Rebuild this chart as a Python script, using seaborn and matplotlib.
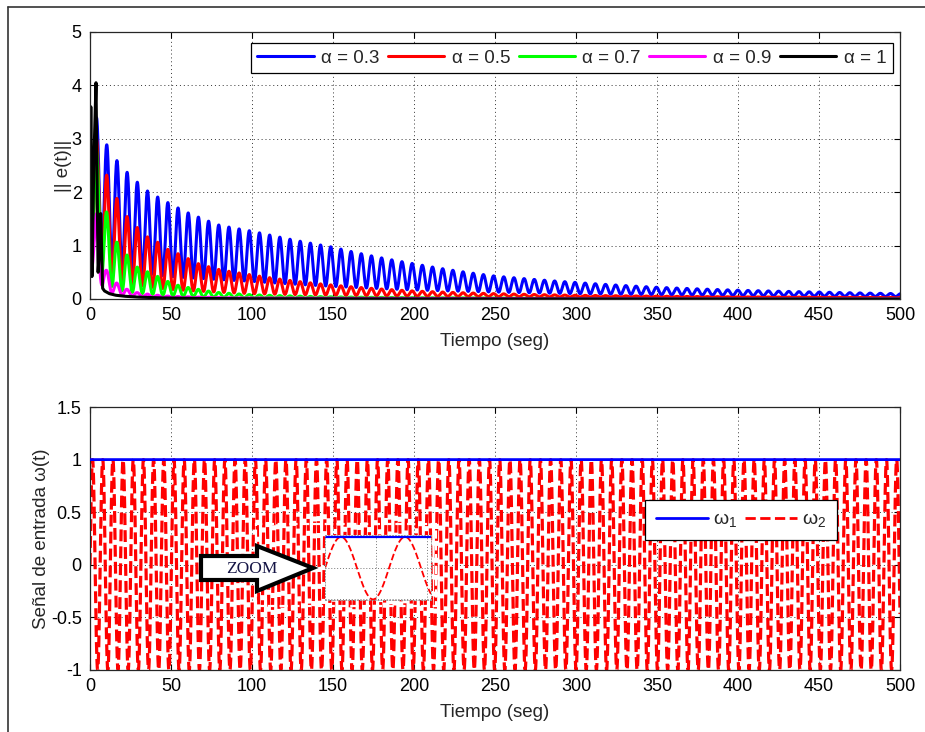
import numpy as np
import pandas as pd
import matplotlib
matplotlib.use("Agg")
import matplotlib.pyplot as plt
from matplotlib.lines import Line2D
from matplotlib.patches import Polygon, Rectangle
import seaborn as sns

# ---------------- data ----------------
alphas = ["0.3", "0.5", "0.7", "0.9", "1"]
series_colors = ["#0000ff", "#ff0000", "#00ff00", "#ff00ff", "#000000"]

# envelope of the oscillating error norm: upper (peak) and lower (trough) values
env_t_blue = [0, 4, 10.3, 16.9, 23.3, 29.8, 36, 48.4, 60, 80, 100, 150, 200, 250, 300, 350, 400, 450, 500]
env_peak_blue = [3.4, 3.4, 2.89, 2.58, 2.36, 2.17, 2.01, 1.80, 1.62, 1.38, 1.27, 0.97, 0.66, 0.43, 0.31, 0.22, 0.165, 0.13, 0.10]
trough_t_blue = [0, 4, 10, 20, 50, 100, 200, 300, 400, 500]
trough_blue = [0.7, 0.9, 0.7, 0.55, 0.42, 0.33, 0.17, 0.10, 0.065, 0.045]

env_t_red = [0, 4, 10.2, 17, 23, 29.5, 36, 42, 48, 55, 61, 67, 80, 100, 150, 200, 250, 300, 400, 500]
env_peak_red = [3.0, 3.0, 2.33, 1.86, 1.54, 1.33, 1.15, 1.06, 0.93, 0.84, 0.75, 0.66, 0.55, 0.45, 0.26, 0.15, 0.10, 0.07, 0.04, 0.03]
trough_t_red = [0, 4, 10, 20, 50, 100, 200, 500]
trough_red = [0.7, 0.9, 0.45, 0.30, 0.18, 0.10, 0.05, 0.02]

env_t_green = [0, 4, 10.2, 16.5, 23, 29, 35.5, 42, 48, 54, 67, 80, 100, 150, 200, 300, 500]
env_peak_green = [2.8, 2.8, 1.64, 1.07, 0.82, 0.60, 0.51, 0.42, 0.33, 0.26, 0.18, 0.12, 0.08, 0.04, 0.025, 0.012, 0.005]
trough_t_green = [0, 4, 10, 20, 50, 100, 500]
trough_green = [0.7, 0.9, 0.30, 0.15, 0.06, 0.02, 0.002]

env_t_mag = [0, 4, 10, 16.5, 23, 29, 50, 100, 500]
env_peak_mag = [1.6, 1.6, 0.55, 0.30, 0.18, 0.12, 0.05, 0.02, 0.003]
trough_t_mag = [0, 4, 10, 20, 50, 500]
trough_mag = [0.6, 0.5, 0.15, 0.07, 0.02, 0.001]

# alpha = 1 trace (sampled points)
black_t = [0, 0.5, 1.2, 2.4, 3.7, 5.0, 5.8, 6.6, 7.8, 9.0, 12, 16, 22, 30, 45, 70, 100, 200, 500]
black_v = [0.9, 3.6, 0.42, 2.6, 4.05, 0.5, 0.9, 1.6, 0.2, 0.15, 0.1, 0.07, 0.05, 0.035, 0.02, 0.01, 0.005, 0.002, 0.0]

peak_phase = 4.1          # time of first peak of the oscillation
omega = 1.0               # oscillation frequency (rad/s)

# input signals
w1_level = 1.0
w2_amp = 1.0
t_end = 500

x_ticks = list(range(0, 501, 50))
y_ticks_top = [0, 1, 2, 3, 4, 5]
y_ticks_bot = [-1, -0.5, 0, 0.5, 1, 1.5]


def envelope(t, kt, kv):
    return np.exp(np.interp(t, kt, np.log(np.maximum(kv, 1e-6))))


t = np.arange(0, t_end + 0.01, 0.02)
carrier = 0.5 + 0.5 * np.cos(omega * (t - peak_phase))

rows = []
for lab, kt, kp, tt, tv in [
    ("0.3", env_t_blue, env_peak_blue, trough_t_blue, trough_blue),
    ("0.5", env_t_red, env_peak_red, trough_t_red, trough_red),
    ("0.7", env_t_green, env_peak_green, trough_t_green, trough_green),
    ("0.9", env_t_mag, env_peak_mag, trough_t_mag, trough_mag),
]:
    up = envelope(t, kt, kp)
    lo = np.minimum(envelope(t, tt, tv), up)
    rows.append(pd.DataFrame({"t": t, "e": lo + (up - lo) * carrier, "alpha": lab}))
rows.append(pd.DataFrame({"t": black_t, "e": black_v, "alpha": "1"}))
df_err = pd.concat(rows, ignore_index=True)

t_in = np.arange(0, t_end + 0.005, 0.01)
df_in = pd.DataFrame({"t": t_in, "w1": np.full_like(t_in, w1_level), "w2": w2_amp * np.sin(t_in)})

# ---------------- figure ----------------
sns.set_theme(style="ticks")
plt.rcParams["font.family"] = ["Liberation Sans", "DejaVu Sans"]
plt.rcParams["mathtext.fontset"] = "custom"
plt.rcParams["mathtext.rm"] = "Liberation Sans"
plt.rcParams["mathtext.it"] = "Liberation Sans"

W, H = 925, 732
fig = plt.figure(figsize=(W / 100, H / 100), dpi=100)
fig.patch.set_facecolor("white")


def fx(px):
    return px / W


def fy(py):
    return (H - py) / H


ax1 = fig.add_axes([fx(90), fy(299), fx(810), 267 / H])
ax2 = fig.add_axes([fx(90), fy(670), fx(810), 263 / H])

palette = dict(zip(alphas, series_colors))
sns.lineplot(data=df_err, x="t", y="e", hue="alpha", palette=palette, hue_order=alphas,
             estimator=None, errorbar=None, sort=False, legend=False, linewidth=2.2, ax=ax1)

sns.lineplot(data=df_in, x="t", y="w2", color="#ff0000", linestyle="--", linewidth=2.3,
             estimator=None, errorbar=None, sort=False, ax=ax2, zorder=2)
sns.lineplot(data=df_in, x="t", y="w1", color="#0000ff", linewidth=2.0,
             estimator=None, errorbar=None, sort=False, ax=ax2, zorder=3)

for ax, yt, ylim in [(ax1, y_ticks_top, (0, 5)), (ax2, y_ticks_bot, (-1, 1.5))]:
    ax.set_xlim(0, t_end)
    ax.set_ylim(*ylim)
    ax.set_xticks(x_ticks)
    ax.set_yticks(yt)
    ax.set_yticklabels([f"{v:g}" for v in yt])
    ax.grid(True, color="black", linestyle=(0, (1, 3)), linewidth=0.7, alpha=0.8)
    ax.tick_params(direction="in", length=4, width=0.8, top=True, right=True,
                   labelsize=13, colors="black")
    ax.tick_params(axis="x", pad=6)
    ax.tick_params(axis="y", pad=6)
    for s in ax.spines.values():
        s.set_color("#262626")
        s.set_linewidth(0.9)
        s.set_visible(True)
    ax.set_xlabel("Tiempo (seg)", fontsize=13.5, labelpad=6)

ax1.set_ylabel("|| e(t)||", fontsize=13.5, labelpad=0)
ax2.set_ylabel("Señal de entrada ω(t)", fontsize=13.5, labelpad=0.5)

handles = [Line2D([], [], color=c, lw=2.2) for c in series_colors]
leg1 = ax1.legend(handles, [f"α = {a}" for a in alphas], ncol=5, loc="upper right",
                  bbox_to_anchor=(0.991, 0.959), borderaxespad=0, fontsize=13.5,
                  handlelength=3.0, columnspacing=0.45, handletextpad=0.4, borderpad=0.35,
                  frameon=True, fancybox=False, edgecolor="black", framealpha=1)
leg1.get_frame().set_linewidth(0.9)

h2 = [Line2D([], [], color="#0000ff", lw=2.0), Line2D([], [], color="#ff0000", lw=2.0, ls="--")]
leg2 = ax2.legend(h2, [r"$\omega_1$", r"$\omega_2$"], ncol=2, loc="lower left",
                  bbox_to_anchor=(0.685, 0.494), borderaxespad=0, fontsize=14,
                  handlelength=2.7, columnspacing=0.4, handletextpad=0.25, borderpad=0.55,
                  frameon=True, fancybox=False, edgecolor="black", framealpha=1)
leg2.get_frame().set_linewidth(0.9)

# white dashed frame around the zoom callout
fig.patches.append(Rectangle((fx(256), fy(606)), fx(180), 82 / H, transform=fig.transFigure,
                             fill=False, edgecolor="white", linestyle="--", linewidth=1.6, zorder=5))

# zoomed view of the input signals
ins = fig.add_axes([fx(325), fy(600), fx(106), 65 / H])
ins.set_facecolor("white")
t_z = np.linspace(0, 10.4, 600)
sns.lineplot(x=t_z, y=w2_amp * np.sin(t_z), color="#ff0000", linestyle="--", linewidth=1.3, ax=ins)
sns.lineplot(x=t_z, y=np.full_like(t_z, w1_level), color="#0000ff", linewidth=1.6, ax=ins)
ins.set_xlim(0, 10.4)
ins.set_ylim(-1.02, 1.06)
ins.set_xticks([0, 5, 10])
ins.set_yticks([-1, 0, 1])
ins.tick_params(length=0, labelbottom=False, labelleft=False)
ins.grid(True, color="#777777", linestyle=(0, (1, 2)), linewidth=0.7)
for s in ins.spines.values():
    s.set_color("#999999")
    s.set_linestyle((0, (1, 2)))
    s.set_linewidth(0.7)
ins.set_xlabel("")
ins.set_ylabel("")

# arrow pointing at the zoomed view
arrow_px = [(201, 556), (257, 556), (257, 546), (313, 568), (257, 591), (257, 580), (201, 580)]
fig.patches.append(Polygon([(fx(x), fy(y)) for x, y in arrow_px], closed=True,
                           transform=fig.transFigure, facecolor="white", alpha=1,
                           edgecolor="black", linewidth=3, zorder=6))
fig.text(fx(252), fy(569), "ZOOM", fontsize=12.5, family=["Liberation Serif", "DejaVu Serif"],
         color="#141445", ha="center", va="center", zorder=7)

# outer frame lines
fig.add_artist(Line2D([fx(8), fx(8)], [fy(7), 0], transform=fig.transFigure, color="#333333", lw=1.2))
fig.add_artist(Line2D([fx(8), 1], [fy(7), fy(7)], transform=fig.transFigure, color="#333333", lw=1.2))

fig.savefig("out.png", dpi=100, facecolor="white")
